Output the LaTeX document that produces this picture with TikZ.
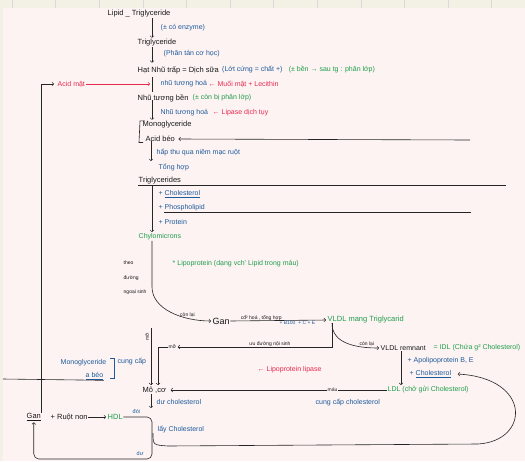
\documentclass[tikz,border=0pt]{standalone}
\usepackage{fontspec}
\setmainfont{Liberation Sans}
\usetikzlibrary{positioning}
\definecolor{paper}{HTML}{FDF3F3}
\definecolor{strip}{HTML}{F3F0E6}
\definecolor{inkblue}{HTML}{1D5A9B}
\definecolor{inkred}{HTML}{E52A4E}
\definecolor{inkgreen}{HTML}{1F9D4C}
\tikzset{
  txt/.style={anchor=west,inner sep=0.5pt,font=\fontsize{7.5}{9}\selectfont,text=black!90},
  bluenote/.style={txt,font=\fontsize{7}{8}\selectfont,text=inkblue},
  rednote/.style={txt,font=\fontsize{7}{8}\selectfont,text=inkred},
  greennote/.style={txt,font=\fontsize{7}{8}\selectfont,text=inkgreen},
  smalltxt/.style={txt,font=\fontsize{5}{6}\selectfont},
  pen/.style={line width=0.6pt,draw=black!85},
  arr/.style={pen,->,shorten >=1pt},
  redarr/.style={line width=0.6pt,draw=inkred,->,shorten >=2pt}
}
\begin{document}
\begin{tikzpicture}[x=1pt,y=-1pt]
        \useasboundingbox (0,0) rectangle (525,461);
        \fill [paper] (0,0) rectangle (525,461);
        \fill [strip] (0,0) rectangle (525,8);
        \fill [strip] (0,8) rectangle (3,461);
        \foreach \gx in {12,55.6,99.2,142.8,186.4,230,273.6,317.2,360.8,404.4,448,491.6}
            \draw [black!15] (\gx,0) -- (\gx,8);
        \coordinate (spine) at (152,0);
        \node [txt] (lipid) at (107,14) {Lipid \_ Triglyceride};
        \node [bluenote] (enz) at (160,28) {(± có enzyme)};
        \node [txt] (tg1) at (137,43) {Triglyceride};
        \node [bluenote] (phantan) at (163,54) {(Phân tán cơ học)};
        \node [txt] (hat) at (137,70) {Hạt Nhũ trấp = Dịch sữa};
        \node [bluenote,right=2pt of hat] (lop) {(Lớt cứng = chất +)};
        \node [greennote,right=5pt of lop] (benphan) {(± bền → sau tg : phân lớp)};
        \node [rednote] (acidmat) at (57,84) {Acid mật};
        \node [bluenote] (nhth1) at (160,84) {nhũ tương hoá};
        \node [rednote] (muoi) at (208,84) {← Muối mật + Lecithin};
        \node [txt] (nhubn) at (137,98) {Nhũ tương bền};
        \node [greennote] (conphan) at (192,98) {(± còn bị phân lớp)};
        \node [bluenote] (nhth2) at (160,113) {Nhũ tương hoá};
        \node [rednote] (lipase) at (212,113) {← Lipase dịch tụy};
        \node [txt] (mono) at (142,125) {Monoglyceride};
        \node [txt] (acidbeo) at (145,139) {Acid béo};
        \node [bluenote] (hapthu) at (156,153) {hấp thu qua niêm mạc ruột};
        \node [bluenote] (tonghop) at (158,167) {Tổng hợp};
        \node [txt] (tgs) at (138,181) {Triglycerides};
        \node [bluenote] (chol1) at (158,194) {+ \underline{Cholesterol}};
        \node [bluenote] (phos) at (158,208) {+ Phospholipid};
        \node [bluenote] (prot) at (158,222) {+ Protein};
        \node [greennote] (chylo) at (138,237) {Chylomicrons};
        \node [txt,font=\fontsize{5}{14.5}\selectfont,align=left] (theo) at (123,278) {theo\\đường\\ngoại sinh};
        \node [greennote] (lipo) at (172,264) {* Lipoprotein (dạng vch' Lipid trong máu)};
        \node [txt,font=\fontsize{9}{10}\selectfont] (gan1) at (212,321) {Gan};
        \node [greennote,font=\fontsize{7.5}{9}\selectfont] (vldl) at (327,320) {VLDL mang Triglycarid};
        \node [txt,font=\fontsize{7}{8}\selectfont] (remn) at (380,348) {VLDL remnant};
        \node [greennote] (idl) at (433,348) {= IDL (Chứa g² Cholesterol)};
        \node [bluenote] (apo) at (407,361) {+ Apolipoprotein B, E};
        \node [bluenote] (chol2) at (409,374) {+ \underline{Cholesterol}};
        \node [rednote] (lpl) at (257,370) {← Lipoprotein lipase};
        \node [smalltxt] (mau) at (327,390) {máu};
        \node [greennote] (ldl) at (387,390) {LDL (chở gửi Cholesterol)};
        \node [bluenote] (cungcap2) at (315,403) {cung cấp cholesterol};
        \node [smalltxt] (mo1) at (168,347) {mỡ};
        \node [smalltxt,rotate=90,anchor=center] (mo2) at (147,337) {mỡ};
        \node [bluenote] (monoL) at (60,363) {Monoglyceride};
        \node [bluenote] (abeo) at (85,376) {\underline{a béo}};
        \node [bluenote] (cungcap1) at (117,362) {cung cấp};
        \node [txt] (moco) at (142,390) {Mô ,cơ};
        \node [bluenote] (duchol) at (156,402) {dư cholesterol};
        \node [txt] (ganB) at (26,417) {\underline{Gan}};
        \node [txt] (ruot) at (50,417) {+ Ruột non};
        \node [greennote,font=\fontsize{7.5}{9}\selectfont] (hdl) at (107,417) {HDL};
        \node [bluenote,font=\fontsize{5.5}{6}\selectfont] (doi) at (132,411) {đói};
        \node [bluenote,font=\fontsize{5.5}{6}\selectfont] (du) at (136,454) {dư};
        \node [bluenote] (layc) at (157,430) {lấy Cholesterol};
        \coordinate (bar1) at (152,77);
        \coordinate (bar2) at (152,92);
        \coordinate (a3) at (151,162);
        \coordinate (r1) at (470,140);
        \coordinate (r2) at (506,186);
        \coordinate (r3) at (471,215);
        \coordinate (mtop) at (151,328);
        \coordinate (dn) at (151,409);
        \coordinate (ldx) at (401,0);
        \coordinate (lstart) at (153,433);
        \coordinate (lend) at (3,379);
        \coordinate (brk1) at (110,358);
        \coordinate (brk2) at (110,378);
        \draw [arr] (lipid.south -| spine) -- (tg1.north -| spine);
        \draw [arr] (tg1.south -| spine) -- ([yshift=2pt]hat.north -| spine);
        \draw [pen] (bar1) -- (bar2);
        \draw [redarr] (acidmat.east) -- (acidmat.east -| bar1);
        \draw [arr] ([yshift=2pt]nhubn.south -| spine) -- (mono.north -| spine);
        \draw [pen] ([xshift=3pt]mono.north west) -- ([xshift=-2pt]mono.north west) -- ([xshift=-6pt]acidbeo.south west) -- ([xshift=-2pt]acidbeo.south west);
        \draw [arr] (r1) -- ([xshift=2pt]acidbeo.east);
        \draw [arr] ([yshift=2pt]acidbeo.south -| a3) -- (a3);
        \draw [pen] (tgs.south west) -- (r2 |- tgs.south);
        \draw [arr] (tgs.south -| spine) -- (chylo.north -| spine);
        \draw [pen] ([xshift=6pt]phos.south west) -- (r3 |- phos.south);
        \draw [arr] (chylo.south -| spine) -- ++(0,46) .. controls +(0,22) and +(-30,0) .. (gan1.west) node [smalltxt,pos=0.72,above] (conlai1) {còn lại};
        \draw [arr] (gan1.east) -- (vldl.west) node [smalltxt,pos=0.1,above,anchor=south west] (chuyen) {cđ² hoá , tổng hợp} node [bluenote,font=\fontsize{5}{6}\selectfont,pos=0.5,below,anchor=north west] (b100) {+ B100 \ + C + E};
        \draw [arr] ([xshift=5pt,yshift=1pt]vldl.south west) |- (mo1.east) node [smalltxt,pos=0.7,above] (nosinh) {ưu đường nội sinh};
        \draw [arr] (mo1.west) -| ([xshift=16pt]moco.north west);
        \draw [arr] ([xshift=5pt,yshift=1pt]vldl.south west) .. controls +(0,20) and +(-25,0) .. (remn.west) node [smalltxt,pos=0.82,above] (conlai2) {còn lại};
        \draw [arr] (mtop) -- (moco.north -| mtop);
        \draw [arr] (remn.south -| ldx) -- (ldl.north -| ldx);
        \draw [pen] (ldl.west) -- (mau.east);
        \draw [arr] (mau.west) -- ([xshift=3pt]moco.east);
        \draw [arr] (moco.south -| dn) -- (dn);
        \draw [draw=inkblue,line width=0.6pt] (brk1) -- ++(4,0) -- ([xshift=4pt]brk2) -- (brk2);
        \draw [pen] (lend) -- (abeo.south east);
        \draw [arr] (ruot.east) -- (hdl.west);
        \draw [arr,rounded corners=5pt] (hdl.east) -| (152,459) -| (ganB.south);
        \draw [arr] (lstart) .. controls (153,445) .. (168,446) -- (478,444) .. controls (530,441) and (532,378) .. ([xshift=5pt]chol2.east);
        \draw [arr] (ganB.north east) |- ([xshift=-2pt]acidmat.west);
\end{tikzpicture}
\end{document}
